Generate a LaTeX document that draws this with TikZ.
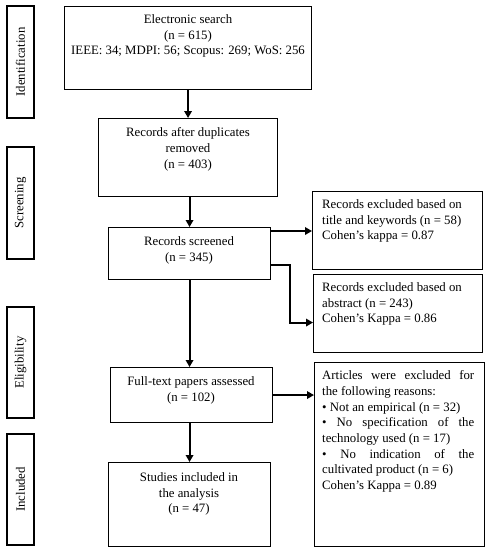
\documentclass[tikz,border=0pt]{standalone}
\usepackage{fontspec}
\setmainfont{Liberation Serif}
\usetikzlibrary{arrows.meta}
\newcommand{\fs}{\fontsize{12.8}{15.7}\selectfont}
\begin{document}
\begin{tikzpicture}[x=1pt,y=-1pt,
  box/.style={draw, line width=1.1pt, inner sep=0pt, anchor=north west},
  txt/.style={inner sep=0pt, font=\fs, align=center, anchor=north},
  ltxt/.style={inner sep=0pt, font=\fs, align=left, anchor=north west},
  side/.style={draw, line width=1.1pt, inner sep=0pt, font=\fs, rotate=90, minimum height=27pt},
  arr/.style={line width=1.9pt, -{Triangle[length=7pt,width=7.5pt]}}]
\useasboundingbox (0,0) rectangle (489,550);
% side labels
\node[side, minimum width=112pt] (s1) at (20.5,62) {Identification};
\node[side, minimum width=112pt] (s2) at (20.5,203) {Screening};
\node[side, minimum width=111pt] (s3) at (20.5,362.5) {Eligibility};
\node[side, minimum width=111pt] (s4) at (20.5,489.5) {Included};
% main boxes
\node[box, minimum width=247pt, minimum height=83pt] (b1) at (64,6) {};
\node[box, minimum width=179pt, minimum height=78pt] (b2) at (98,118) {};
\node[box, minimum width=162pt, minimum height=52pt] (b3) at (108,227) {};
\node[box, minimum width=162pt, minimum height=55pt] (b4) at (110,367) {};
\node[box, minimum width=162pt, minimum height=84pt] (b5) at (108,462) {};
% right boxes
\node[box, minimum width=170pt, minimum height=78pt] (r1) at (312,191) {};
\node[box, minimum width=169pt, minimum height=78pt] (r2) at (313,274) {};
\node[box, minimum width=170pt, minimum height=184pt] (r3) at (314,362) {};
% texts
\node[txt] (t1) at (188,14.5) {Electronic search\\(n = 615)\\IEEE: 34; MDPI: 56; Scopus: 269; WoS: 256};
\node[txt] (t2) at (188,127.5) {Records after duplicates\\removed\\(n = 403)};
\node[txt] (t3) at (189,236.5) {Records screened\\(n = 345)};
\node[txt] (t4) at (191,376.5) {Full-text papers assessed\\(n = 102)};
\node[txt] (t5) at (189,472.5) {Studies included in\\the analysis\\(n = 47)};
\node[ltxt] (tr1) at (322,199.5) {Records excluded based on\\title and keywords (n = 58)\\Cohen’s kappa = 0.87};
\node[ltxt] (tr2) at (322,282.5) {Records excluded based on\\abstract (n = 243)\\Cohen’s Kappa = 0.86};
\node[ltxt] (tr3) at (322,370.5) {\hbox to 152pt{Articles\hfill were\hfill excluded\hfill for}\\
the following reasons:\\
\textbullet\ Not an empirical (n = 32)\\
\hbox to 152pt{\textbullet\hfill No\hfill specification\hfill of\hfill the}\\
technology used (n = 17)\\
\hbox to 152pt{\textbullet\hfill No\hfill indication\hfill of\hfill the}\\
cultivated product (n = 6)\\
Cohen’s Kappa = 0.89};
% arrows
\draw[arr] (b1.south) -- (b2.north);
\draw[arr] (b3.north |- b2.south) -- (b3.north);
\draw[arr] (b3.south) -- (b3.south |- b4.north);
\draw[arr] (b5.north |- b4.south) -- (b5.north);
\draw[arr] ([yshift=-4pt]b3.north east) -- ([yshift=-4pt]b3.north east -| r1.west);
\draw[arr] ([yshift=15pt]b3.south east) -- ++(19,0) |- ([yshift=-9pt]r2.west);
\draw[arr] (b4.east) -- (b4.east -| r3.west);
\end{tikzpicture}
\end{document}
